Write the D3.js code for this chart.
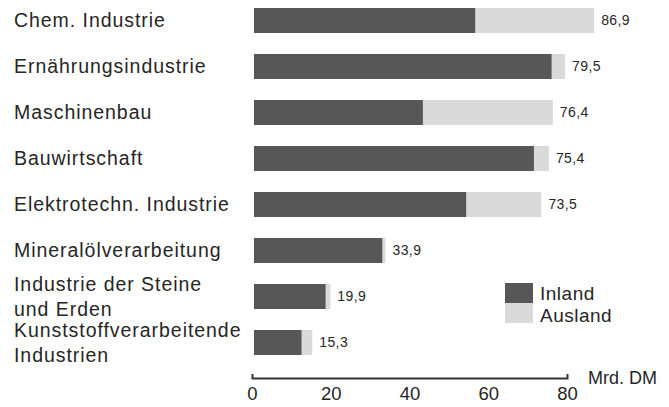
<!DOCTYPE html>
<html><head><meta charset="utf-8">
<script src="https://cdn.jsdelivr.net/npm/d3@7"></script>
<style>
html,body{margin:0;padding:0;background:#fff;}
svg text{font-family:"Liberation Sans",Arial,sans-serif;fill:#262626;}
</style></head>
<body><svg id="chart" width="669" height="407"></svg>
<script>
const categories = [
  ["Chem. Industrie"],
  ["Ernährungsindustrie"],
  ["Maschinenbau"],
  ["Bauwirtschaft"],
  ["Elektrotechn. Industrie"],
  ["Mineralölverarbeitung"],
  ["Industrie der Steine", "und Erden"],
  ["Kunststoffverarbeitende", "Industrien"]
];
const totals = [86.9, 79.5, 76.4, 75.4, 73.5, 33.9, 19.9, 15.3];
const inland = [56.7, 76.1, 43.4, 71.6, 54.4, 33.1, 18.7, 12.6];
const totalLabels = ["86,9", "79,5", "76,4", "75,4", "73,5", "33,9", "19,9", "15,3"];
const xTicks = [0, 20, 40, 60, 80];
const seriesNames = ["Inland", "Ausland"];
const colors = ["#575757", "#dadada"];

const svg = d3.select("#chart");
const x = d3.scaleLinear().domain([0, 80]).range([252, 567]);
const y = d3.scaleBand().domain(d3.range(categories.length)).range([-2.5, 365.5])
  .paddingInner(0.4565).paddingOuter(0.228);

const rows = categories.map((c, i) => ({i, c, inl: inland[i], aus: totals[i] - inland[i], tot: totals[i], lbl: totalLabels[i]}));

// bars
const g = svg.append("g");
g.selectAll("rect.aus").data(rows).join("rect")
  .attr("x", d => x(d.inl)).attr("y", d => y(d.i))
  .attr("width", d => x(d.tot) - x(d.inl)).attr("height", y.bandwidth())
  .attr("fill", colors[1]);
g.selectAll("rect.inl").data(rows).join("rect")
  .attr("x", x(0) + 2).attr("y", d => y(d.i))
  .attr("width", d => x(d.inl) - x(0) - 2).attr("height", y.bandwidth())
  .attr("fill", colors[0]);

// value labels
g.selectAll("text.val").data(rows).join("text")
  .attr("x", d => x(d.tot) + 7).attr("y", d => y(d.i) + y.bandwidth() / 2)
  .attr("dy", "0.35em").style("font-size", "14px").style("letter-spacing", "0.4px").text(d => d.lbl);

// category labels
const lab = svg.append("g").selectAll("text").data(rows).join("text")
  .attr("x", 15).style("font-size", "19.5px").style("letter-spacing", "0.95px");
lab.each(function(d) {
  const t = d3.select(this);
  const cy = y(d.i) + y.bandwidth() / 2;
  const n = d.c.length;
  d.c.forEach((line, k) => {
    t.append("tspan").attr("x", 14)
      .attr("y", cy + (k - (n - 1) / 2) * 25).attr("dy", "0.35em").text(line);
  });
});

// axis
const axis = d3.axisBottom(x).tickValues(xTicks).tickSizeInner(0).tickSizeOuter(-4).tickPadding(9)
  .tickFormat(d3.format("d"));
const ax = svg.append("g").attr("transform", "translate(0,378)").call(axis);
ax.select(".domain").attr("stroke", "#333").attr("stroke-width", 2);
ax.selectAll("text").style("font-size", "18.5px").attr("fill", "#262626")
  .style("font-family", "'Liberation Sans',Arial,sans-serif");
svg.append("text").attr("x", 588).attr("y", 378).attr("dy", "0.35em")
  .style("font-size", "18px").text("Mrd.  DM");

// legend
const leg = svg.append("g").selectAll("g").data(seriesNames).join("g");
leg.append("rect").attr("x", 505).attr("y", (d, i) => 283 + i * 20)
  .attr("width", 28).attr("height", 20).attr("fill", (d, i) => colors[i]);
leg.append("text").attr("x", 540).attr("y", (d, i) => 293 + i * 22).attr("dy", "0.35em")
  .style("font-size", "19px").style("letter-spacing", "0.5px").text(d => d);
</script></body></html>
